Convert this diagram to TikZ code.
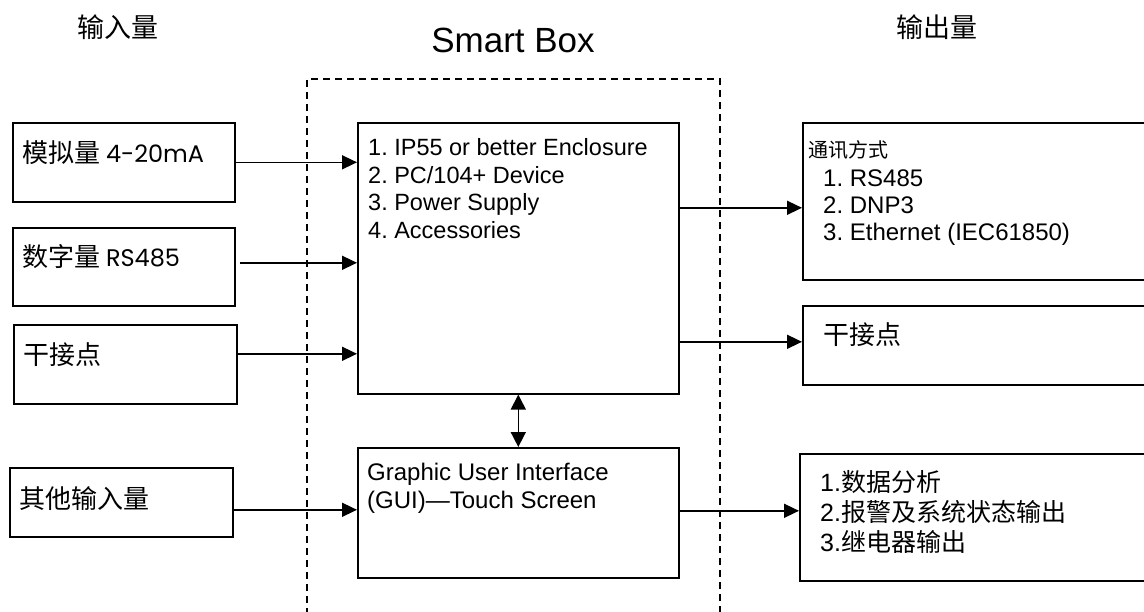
\documentclass[tikz,border=0pt]{standalone}
\usepackage{fontspec}
\setmainfont{Liberation Sans}
\newfontfamily\cjk{Noto Sans CJK SC}
\newfontfamily\geo{Poppins}
\usetikzlibrary{arrows.meta}
\frenchspacing
\begin{document}
\begin{tikzpicture}[x=1pt,y=-1pt,
  box/.style={draw,line width=1.6pt,inner sep=0pt,anchor=north west},
  txt/.style={inner sep=0pt,anchor=west,align=left},
  arr/.style={line width=1.6pt,-{Triangle[length=15pt,width=14pt]}},
  darr/.style={line width=1.6pt,{Triangle[length=15pt,width=15pt]}-{Triangle[length=15pt,width=15pt]}},
  frame/.style={line width=1.5pt,dash pattern=on 7pt off 5pt},
  infont/.style={font=\cjk\fontsize{26}{30}\selectfont}]
\useasboundingbox (0,0) rectangle (1144,611);
\fill[white] (0,0) rectangle (1144,611);

% titles
\node[font=\cjk\fontsize{27}{32}\selectfont] (tin) at (118,27) {输入量};
\node[font=\fontsize{35}{42}\selectfont] (ttl) at (513,40) {Smart Box};
\node[font=\cjk\fontsize{27}{32}\selectfont] (tout) at (937,27) {输出量};

% dashed frame
\draw[frame] (307,615) -- (307,79) -- (720,79) -- (720,615);

% boxes
\node[box,minimum width=222pt,minimum height=79pt] (in1) at (12,122) {};
\node[box,minimum width=222pt,minimum height=78pt] (in2) at (12,227) {};
\node[box,minimum width=223pt,minimum height=79pt] (in3) at (13,324) {};
\node[box,minimum width=223pt,minimum height=69pt] (in4) at (9,467) {};
\node[box,minimum width=321pt,minimum height=271pt] (main) at (357,122) {};
\node[box,minimum width=321pt,minimum height=130pt] (gui) at (357,447) {};
\node[box,minimum width=360pt,minimum height=157pt] (out1) at (802,122) {};
\node[box,minimum width=360pt,minimum height=79pt] (out2) at (802,305) {};
\node[box,minimum width=363pt,minimum height=127pt] (out3) at (799,453) {};

% texts
\node[txt,infont] (in1t) at (22,153) {模拟量 {\geo\fontsize{24}{28}\selectfont 4-20mA}};
\node[txt,infont] (in2t) at (22,257) {数字量 {\geo\fontsize{24}{28}\selectfont RS485}};
\node[txt,infont] (in3t) at (23,355) {干接点};
\node[txt,infont] (in4t) at (19,499) {其他输入量};
\node[txt,font=\fontsize{23.5}{27.7}\selectfont] (maint) at (368,188.5)
  {1. IP55 or better Enclosure\\2. PC/104+ Device\\3. Power Supply\\4. Accessories};
\node[txt,font=\fontsize{24}{28}\selectfont] (guit) at (367,488)
  {Graphic User Interface\\(GUI)---Touch Screen};
\node[txt,font=\cjk\fontsize{20}{24}\selectfont] (out1h) at (808,150) {通讯方式};
\node[txt,font=\fontsize{24}{27}\selectfont] (out1t) at (823,207.5)
  {1. RS485\\2. DNP3\\3. Ethernet (IEC61850)};
\node[txt,font=\cjk\fontsize{26}{30}\selectfont] (out2t) at (823,335) {干接点};
\node[txt,font=\fontsize{25}{30}\selectfont] (out3t) at (820,512)
  {1.{\cjk 数据分析}\\2.{\cjk 报警及系统状态输出}\\3.{\cjk 继电器输出}};

% connectors
\draw[arr] (in1.east) -- (in1.east -| main.west);
\draw[arr] ([xshift=4pt,yshift=4pt]in2.east) -- ([yshift=4pt]in2.east -| main.west);
\draw[arr] ([yshift=10.5pt]in3.east) -- ([yshift=10.5pt]in3.east -| main.west);
\draw[arr] ([yshift=-7.5pt]in4.east) -- ([yshift=-7.5pt]in4.east -| gui.west);
\draw[darr] (main.south) -- (gui.north);
\draw[arr] ([yshift=-6.5pt]out1.west -| main.east) -- ([yshift=-6.5pt]out1.west);
\draw[arr] ([yshift=3.5pt]out2.west -| main.east) -- ([yshift=3.5pt]out2.west);
\draw[arr] ([yshift=6.5pt]out3.west -| gui.east) -- ([yshift=6.5pt]out3.west);
\end{tikzpicture}
\end{document}
